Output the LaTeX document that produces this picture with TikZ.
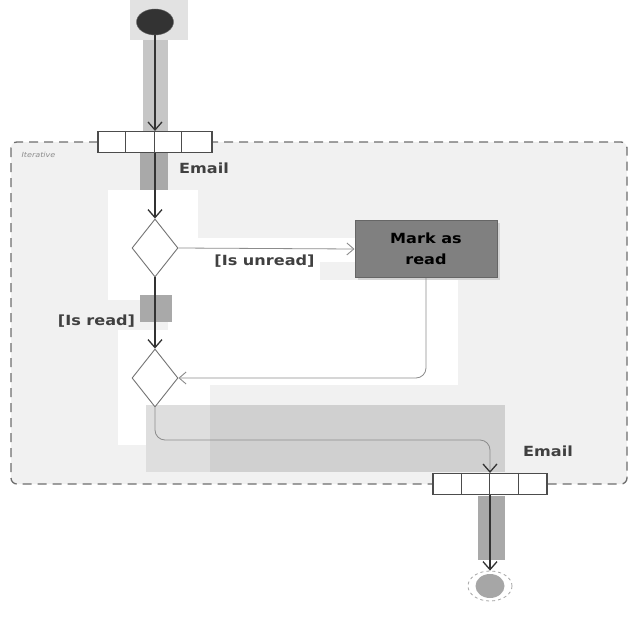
\documentclass[tikz,border=0pt]{standalone}
\usepackage{fontspec}
\setmainfont{DejaVu Sans}[FakeStretch=1.15]
\usetikzlibrary{arrows.meta,shapes.geometric,shadows}
\definecolor{regionfill}{HTML}{F1F1F1}
\definecolor{regionline}{HTML}{6E6E6E}
\definecolor{stripe}{HTML}{A9A9A9}
\definecolor{palestripe}{HTML}{C6C6C6}
\definecolor{haze}{HTML}{E2E2E2}
\definecolor{lowband}{HTML}{D0D0D0}
\begin{document}
\begin{tikzpicture}[x=1pt,y=-1pt,
  mainflow/.style={draw=black!80,line width=1.8pt,-{Straight Barb[length=8pt,width=14pt,line width=1.3pt]}},
  guardflow/.style={draw=black!45,line width=0.8pt,rounded corners=10pt,-{Straight Barb[length=7pt,width=12pt,line width=0.9pt]}},
  choice/.style={diamond,draw=black!55,line width=0.9pt,fill=white,inner sep=0pt,minimum width=46pt,minimum height=58pt},
  pin/.style={draw=black!70,line width=1.1pt,fill=white,minimum width=114pt,minimum height=21pt,inner sep=0pt},
  action/.style={draw=black!60,fill=black!50,line width=1pt,minimum width=142pt,minimum height=57pt,align=center,
    font=\bfseries\fontsize{14}{21}\selectfont,text=black,drop shadow={opacity=0.25}},
  flowlabel/.style={font=\bfseries\fontsize{14}{17}\selectfont,text=black!75,inner sep=1pt},
  patch/.style={fill=#1,draw=none}
]
\useasboundingbox (0,0) rectangle (640,640);
\fill[white] (0,0) rectangle (640,640);

% soft bands around the start of the flow
\fill[patch=haze] (130,0) rectangle (188,40);
\fill[patch=palestripe] (143,40) rectangle (168,132);

% the iterative region
\draw[fill=regionfill,draw=regionline,line width=1.3pt,dash pattern=on 9pt off 6pt,rounded corners=6pt]
  (11,142) rectangle (627,484);
\node[font=\itshape\fontsize{7}{8}\selectfont,text=black!45,anchor=west] (itlabel) at (18,155) {Iterative};

% bands inside the region
\fill[patch=stripe] (140,151) rectangle (168,218);
\fill[patch=white] (108,190) rectangle (198,300);
\fill[patch=white] (198,238) rectangle (355,262);
\fill[patch=white] (198,262) rectangle (320,280);
\fill[patch=white] (198,280) rectangle (458,385);
\fill[patch=white] (168,300) rectangle (198,330);
\fill[patch=stripe] (140,295) rectangle (172,322);
\fill[patch=white] (118,330) rectangle (210,445);
\fill[patch=lowband] (210,405) rectangle (505,472);
\fill[patch=lowband!70!white] (146,405) rectangle (210,472);
\fill[patch=stripe] (478,496) rectangle (505,560);

% nodes
\node[ellipse,fill=black!80,draw=black!60,minimum width=37pt,minimum height=26pt,inner sep=0pt] (start) at (155,22) {};
\node[pin] (pinin) at (155,142) {};
\foreach \dx in {28,57,84} \draw[draw=black!70,line width=1.1pt] (pinin.north west) ++(\dx,0) -- ++(0,21);
\node[flowlabel] (emailin) at (204,168) {Email};

\node[choice] (d1) at (155,248) {};
\node[action] (mark) at (426,249) {Mark as\\read};
\node[choice] (d2) at (155,378) {};

\node[pin] (pinout) at (490,484) {};
\foreach \dx in {29,57,86} \draw[draw=black!70,line width=1.1pt] (pinout.north west) ++(\dx,0) -- ++(0,21);
\node[flowlabel] (emailout) at (548,451) {Email};

\node[ellipse,draw=black!35,dashed,line width=0.8pt,minimum width=44pt,minimum height=30pt,inner sep=0pt] (final) at (490,586) {};
\node[ellipse,fill=black!35,minimum width=29pt,minimum height=24pt,inner sep=0pt] (finalcore) at (final.center) {};

\coordinate (turn) at (490,440);

% connectors
\draw[mainflow] (start) -- (pinin);
\draw[mainflow] (pinin) -- (d1);
\draw[mainflow] (d1) -- node[flowlabel,pos=0.62,left=18pt] (isread) {[Is read]} (d2);
\draw[guardflow] (d1.east) -- node[flowlabel,below=5pt,pos=0.5,xshift=-2pt] (isunread) {[Is unread]} (mark.west);
\draw[guardflow] (mark.south) |- (d2.east);
\draw[draw=black!45,line width=0.8pt,rounded corners=10pt,-{Straight Barb[length=8pt,width=14pt,line width=1.3pt,black!80]}]
  (d2.south) |- (turn) -- (pinout.north);
\draw[mainflow] (pinout) -- (final);
\end{tikzpicture}
\end{document}
